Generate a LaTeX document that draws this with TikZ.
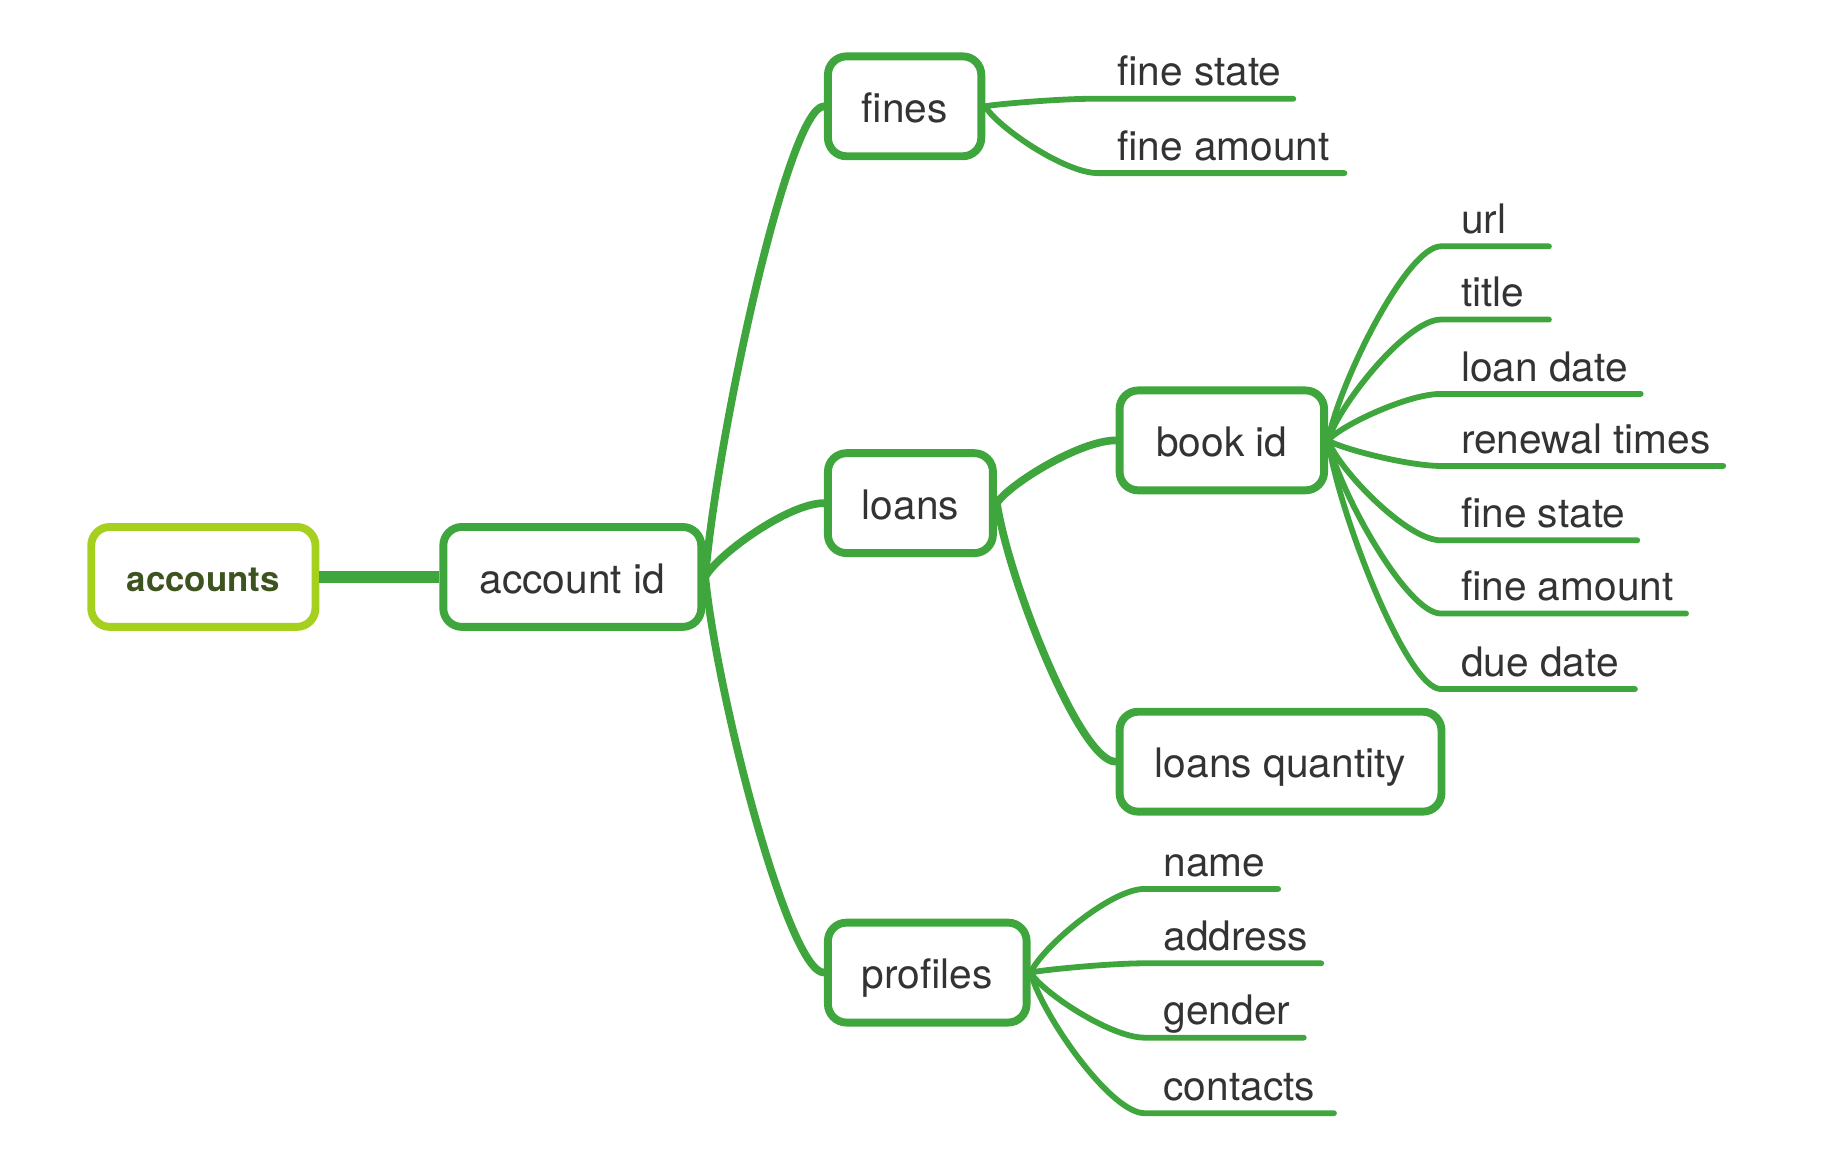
\documentclass[tikz,border=0pt]{standalone}
\usepackage{fontspec}
\setmainfont{TeX Gyre Heros}
\usetikzlibrary{calc}
\definecolor{mmgreen}{RGB}{62,166,60}
\definecolor{mmlime}{RGB}{166,208,30}
\definecolor{mmtext}{RGB}{51,51,51}
\definecolor{mmroot}{RGB}{62,84,32}
\begin{document}
\begin{tikzpicture}[x=0.5pt,y=-0.5pt,
  box/.style={draw=mmgreen, line width=3.4pt, rounded corners=8pt, fill=white,
    text=mmtext, font=\fontsize{17.5}{20}\selectfont, text height=14pt, text depth=0pt,
    minimum height=43pt, inner sep=0pt},
  rootbox/.style={box, draw=mmlime, text=mmroot, font=\fontsize{15}{18}\selectfont\bfseries, text height=12.5pt},
  leaf/.style={text=mmtext, font=\fontsize{17.5}{20}\selectfont, anchor=base west, inner sep=0pt},
  branch/.style={to path={let \p1=(\tikztostart), \p2=(\tikztotarget) in
     .. controls ($(\p1)+({0.1*(\x2-\x1)},{0.3*(\y2-\y1)})$) and ($(\p2)+({-0.3*(\x2-\x1)},0)$) .. (\tikztotarget) \tikztonodes}},
  mainline/.style={draw=mmgreen, line width=3.3pt, line cap=round},
  leafline/.style={draw=mmgreen, line width=2.5pt, line cap=round, line join=round}]
\useasboundingbox (0,0) rectangle (1568,990);

% boxes
\node[rootbox, minimum width=96.5pt] (accounts) at (175,496.5) {accounts};
\node[box, minimum width=111pt] (accountid) at (492.5,496.5) {account id};
\node[box, minimum width=66pt] (fines) at (778.5,91.5) {fines};
\node[box, minimum width=71pt] (loans) at (783.5,433) {loans};
\node[box, minimum width=85.5pt] (profiles) at (798,837) {profiles};
\node[box, minimum width=88pt] (bookid) at (1051.5,379) {book id};
\node[box, minimum width=138.5pt] (loansq) at (1102,655.5) {loans quantity};

% root bar
\draw[draw=mmgreen, line width=5pt] (accounts.east) -- (accountid.west);

% main branches
\draw[mainline] (accountid.east) to[branch] (fines.west);
\draw[mainline] (accountid.east) to[branch] (loans.west);
\draw[mainline] (accountid.east) to[branch] (profiles.west);
\draw[mainline] (loans.east) to[branch] (bookid.west);
\draw[mainline] (loans.east) to[branch] (loansq.west);

% fines children
\coordinate (fs1) at (940,85);   \coordinate (fs2) at (1113,85);
\coordinate (fa1) at (945,149);  \coordinate (fa2) at (1157,149);
\draw[leafline] (fines.east) to[branch] (fs1) -- (fs2);
\draw[leafline] (fines.east) to[branch] (fa1) -- (fa2);
\node[leaf] (tfs) at (961,74) {fine state};
\node[leaf] (tfa) at (961,138) {fine amount};

% book id children
\foreach \nm/\yy/\xe/\lab in {u/212/1333/url, t/275/1333/title, ld/339/1412/loan date,
   rt/401/1483/renewal times, bs/465/1409/fine state, ba/528/1451/fine amount, dd/593/1407/due date}{
  \coordinate (b\nm1) at (1240,\yy);
  \coordinate (b\nm2) at (\xe,\yy);
  \draw[leafline] (bookid.east) to[branch] (b\nm1) -- (b\nm2);
  \node[leaf] (tb\nm) at (1257,\yy-11) {\lab};
}

% profiles children
\foreach \nm/\yy/\xe/\lab in {n/765/1100/name, a/829/1137/address, g/893/1122/gender, c/958/1148/contacts}{
  \coordinate (p\nm1) at (985,\yy);
  \coordinate (p\nm2) at (\xe,\yy);
  \draw[leafline] (profiles.east) to[branch] (p\nm1) -- (p\nm2);
  \node[leaf] (tp\nm) at (1001,\yy-11) {\lab};
}
\end{tikzpicture}
\end{document}
